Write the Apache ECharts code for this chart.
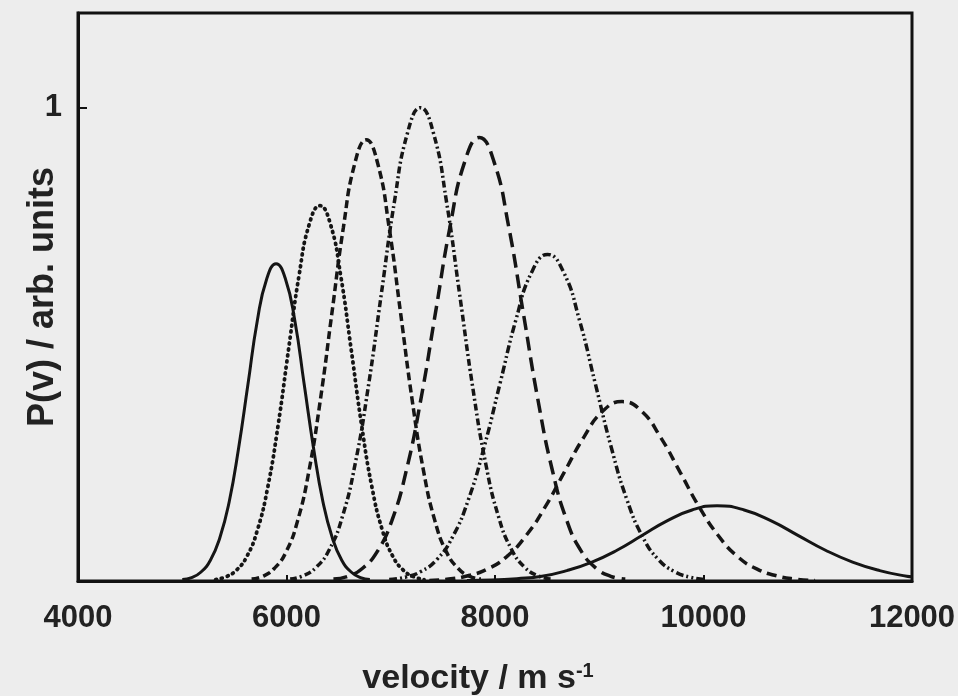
<!DOCTYPE html>
<html>
<head>
<meta charset="utf-8">
<script src="https://cdn.jsdelivr.net/npm/echarts@6/dist/echarts.min.js"></script>
<style>
html,body{margin:0;padding:0;background:#ededed;}
#chart{width:958px;height:696px;}
</style>
</head>
<body>
<div id="chart"></div>
<script>
// x-axis ticks
const xTicks = [4000, 6000, 8000, 10000, 12000];
// curve 1 (solid)
const v1 = [5000,5090,5180,5270,5360,5450,5540,5630,5720,5810,5900,5990,6080,6170,6260,6350,6440,6530,6620,6710,6800];
const p1 = [0.003,0.007,0.019,0.044,0.091,0.167,0.280,0.415,0.550,0.638,0.670,0.638,0.550,0.415,0.280,0.167,0.091,0.044,0.019,0.007,0.003];
// curve 2 (dotted)
const v2 = [5320,5420,5520,5620,5720,5820,5920,6020,6120,6220,6320,6420,6520,6620,6720,6820,6920,7020,7120,7220,7320];
const p2 = [0.003,0.009,0.023,0.052,0.107,0.198,0.330,0.490,0.645,0.755,0.793,0.755,0.645,0.490,0.330,0.198,0.107,0.052,0.023,0.009,0.003];
// curve 3 (dashed)
const v3 = [5665,5775,5885,5995,6105,6215,6325,6435,6545,6655,6765,6875,6985,7095,7205,7315,7425,7535,7645,7755,7865];
const p3 = [0.004,0.010,0.027,0.061,0.126,0.232,0.383,0.565,0.746,0.882,0.932,0.882,0.746,0.565,0.383,0.232,0.126,0.061,0.027,0.010,0.004];
// curve 4 (dash-dot)
const v4 = [6035,6160,6285,6410,6535,6660,6785,6910,7035,7160,7285,7410,7535,7660,7785,7910,8035,8160,8285,8410,8535];
const p4 = [0.004,0.011,0.029,0.066,0.135,0.249,0.411,0.607,0.801,0.946,1.000,0.946,0.801,0.607,0.411,0.249,0.135,0.066,0.029,0.011,0.004];
// curve 5 (long dash)
const v5 = [6450,6590,6730,6870,7010,7150,7290,7430,7570,7710,7850,7990,8130,8270,8410,8550,8690,8830,8970,9110,9250];
const p5 = [0.004,0.010,0.027,0.062,0.127,0.234,0.385,0.568,0.750,0.886,0.937,0.886,0.750,0.568,0.385,0.234,0.127,0.062,0.027,0.010,0.004];
// curve 6 (dash-dot-dot)
const v6 = [6985,7137,7289,7441,7593,7745,7897,8049,8201,8353,8505,8657,8809,8961,9113,9265,9417,9569,9721,9873,10025];
const p6 = [0.003,0.008,0.020,0.045,0.093,0.172,0.284,0.418,0.552,0.653,0.690,0.653,0.552,0.418,0.284,0.172,0.093,0.045,0.020,0.008,0.003];
// curve 7 (dashed)
const v7 = [7370,7555,7740,7925,8110,8295,8480,8665,8850,9035,9220,9405,9590,9775,9960,10145,10330,10515,10700,10885,11070];
const p7 = [0.001,0.004,0.011,0.025,0.051,0.095,0.156,0.230,0.303,0.359,0.379,0.359,0.303,0.230,0.156,0.095,0.051,0.025,0.011,0.004,0.001];
// curve 8 (solid)
const v8 = [7730,7970,8210,8450,8690,8930,9170,9410,9650,9890,10130,10390,10650,10910,11170,11430,11690,11950,12000];
const p8 = [0.001,0.002,0.005,0.010,0.022,0.040,0.065,0.096,0.127,0.150,0.159,0.150,0.127,0.096,0.065,0.040,0.022,0.010,0.009];

const curves = [
  {v: v1, p: p1, type: 'solid', cap: 'butt', w: 3},
  {v: v2, p: p2, type: [1, 5], cap: 'round', w: 3.8},
  {v: v3, p: p3, type: [8, 4], cap: 'butt', w: 3.5},
  {v: v4, p: p4, type: [7, 3, 2, 3], cap: 'butt', w: 3.5},
  {v: v5, p: p5, type: [14, 7], cap: 'butt', w: 3.5},
  {v: v6, p: p6, type: [8, 3, 2, 3, 2, 3], cap: 'butt', w: 3.5},
  {v: v7, p: p7, type: [10, 6], cap: 'butt', w: 3.5},
  {v: v8, p: p8, type: 'solid', cap: 'butt', w: 3}
];

const chart = echarts.init(document.getElementById('chart'));
const font = 'Liberation Sans, Arial, sans-serif';
chart.setOption({
  backgroundColor: '#ededed',
  animation: false,
  grid: {left: 78, right: 46, top: 13, bottom: 115, containLabel: false, outerBoundsMode: 'none',
    show: true, borderColor: '#111', borderWidth: 3, backgroundColor: 'transparent'},
  xAxis: {
    type: 'value', min: xTicks[0], max: xTicks[xTicks.length - 1], interval: 2000,
    name: 'velocity / m s{sup|-1}', nameLocation: 'middle', nameGap: 80, nameMoveOverlap: false,
    nameTextStyle: {fontFamily: font, fontWeight: 'bold', fontSize: 34, color: '#222', padding: [0, 34, 0, 0],
      rich: {sup: {fontFamily: font, fontWeight: 'bold', fontSize: 20, color: '#222', verticalAlign: 'top', padding: [0, 0, 16, 0]}}},
    axisLine: {show: true, onZero: false, lineStyle: {color: '#111', width: 3}},
    axisTick: {show: true, inside: true, length: 6, lineStyle: {color: '#111', width: 2}},
    axisLabel: {fontFamily: font, fontWeight: 'bold', fontSize: 31, color: '#222', margin: 22,
      formatter: function (v) { return String(v); }},
    splitLine: {show: false}
  },
  yAxis: {
    type: 'value', min: 0, max: 1.2, interval: 1,
    name: 'P(v) / arb. units', nameLocation: 'middle', nameGap: 17, nameRotate: 90, nameMoveOverlap: false,
    nameTextStyle: {fontFamily: font, fontWeight: 'bold', fontSize: 36, color: '#222'},
    axisLine: {show: true, lineStyle: {color: '#111', width: 3}},
    axisTick: {show: true, inside: true, length: 9, lineStyle: {color: '#111', width: 2}},
    axisLabel: {fontFamily: font, fontWeight: 'bold', fontSize: 31, color: '#222', margin: 16,
      formatter: function (v) { return v === 1 ? '1' : ''; }},
    splitLine: {show: false}
  },
  series: curves.map(function (c) {
    return {
      type: 'line', smooth: true, showSymbol: false, symbol: 'none',
      data: c.v.map(function (x, i) { return [x, c.p[i]]; }),
      lineStyle: {color: '#151515', width: c.w, type: c.type, cap: c.cap}
    };
  })
});
</script>
</body>
</html>
